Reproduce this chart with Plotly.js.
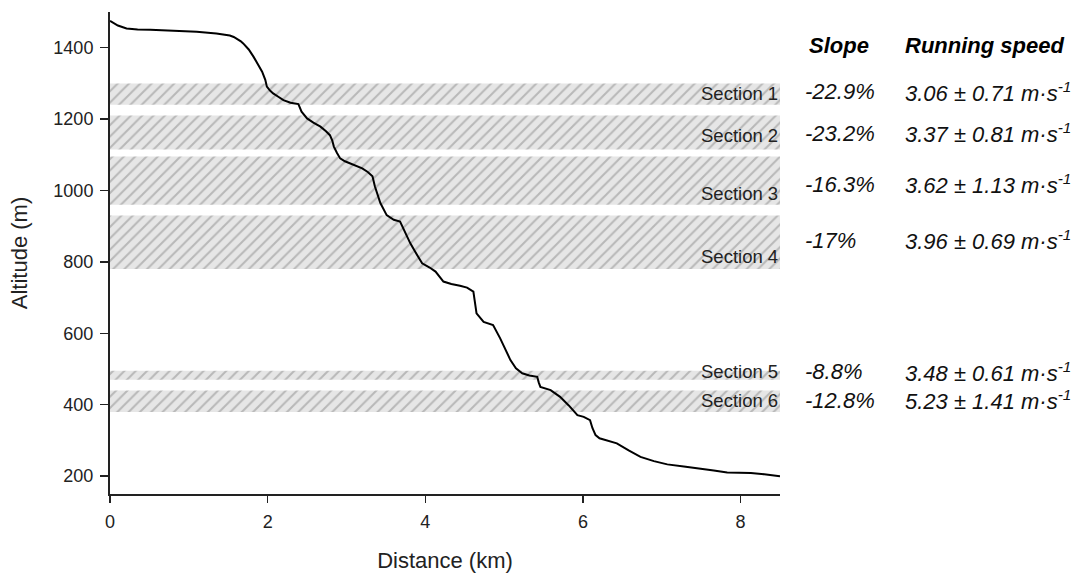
<!DOCTYPE html>
<html>
<head>
<meta charset="utf-8">
<script src="https://cdn.plot.ly/plotly-3.0.1.min.js"></script>
<style>
html,body{margin:0;padding:0;background:#fff;}
#chart{width:1074px;height:574px;}
</style>
</head>
<body>
<div id="chart"></div>
<script>
// ---- data ----
const distanceKm = [0, 0.05, 0.1, 0.21, 0.35, 0.51, 0.7, 0.93, 1.1, 1.35, 1.45, 1.52, 1.57, 1.62, 1.66, 1.69, 1.73, 1.76, 1.82, 1.88, 1.93, 1.97, 1.99, 2.03, 2.07, 2.14, 2.2, 2.29, 2.39, 2.43, 2.47, 2.5, 2.58, 2.67, 2.74, 2.79, 2.82, 2.84, 2.88, 2.92, 2.98, 3.05, 3.13, 3.2, 3.27, 3.33, 3.36, 3.39, 3.43, 3.51, 3.6, 3.68, 3.74, 3.81, 3.87, 3.96, 4.05, 4.13, 4.23, 4.33, 4.44, 4.53, 4.61, 4.63, 4.65, 4.74, 4.86, 4.95, 5.02, 5.08, 5.15, 5.23, 5.32, 5.42, 5.44, 5.46, 5.59, 5.71, 5.82, 5.93, 6.01, 6.09, 6.12, 6.16, 6.21, 6.3, 6.43, 6.58, 6.73, 6.9, 7.07, 7.28, 7.49, 7.66, 7.83, 8.0, 8.13, 8.3, 8.5];
const altitudeM = [1475, 1468, 1462, 1454, 1451, 1450, 1448, 1447, 1445, 1440, 1437, 1434, 1430, 1424, 1418, 1412, 1403, 1395, 1375, 1352, 1333, 1310, 1291, 1280, 1272, 1262, 1253, 1246, 1242, 1221, 1210, 1202, 1190, 1179, 1166, 1155, 1140, 1123, 1105, 1090, 1082, 1076, 1070, 1062, 1052, 1040, 1012, 990, 965, 931, 918, 913, 885, 852, 829, 796, 785, 773, 745, 738, 733, 728, 717, 690, 656, 632, 623, 586, 555, 525, 502, 488, 482, 478, 462, 450, 441, 422, 398, 371, 366, 357, 335, 315, 306, 300, 292, 272, 254, 242, 233, 227, 222, 216, 210, 209, 209, 205, 200];

const sectionNames = ["Section 1", "Section 2", "Section 3", "Section 4", "Section 5", "Section 6"];
const bandTop =    [1300, 1210, 1095, 930, 495, 440];
const bandBottom = [1240, 1115, 960, 780, 470, 380];
const labelAlt =   [1272, 1153, 992, 815, 492, 413];
const rowAlt =     [1276, 1160, 1017, 861, 492, 413];
const slopes = ["-22.9%", "-23.2%", "-16.3%", "-17%", "-8.8%", "-12.8%"];
const speedMean = ["3.06", "3.37", "3.62", "3.96", "3.48", "5.23"];
const speedSD =   ["0.71", "0.81", "1.13", "0.69", "0.61", "1.41"];
const headers = ["Slope", "Running speed"];

const xRange = [0, 8.5];
const yRange = [150, 1500];
const yTicks = [200, 400, 600, 800, 1000, 1200, 1400];
const xTicks = [0, 2, 4, 6, 8];

const FONT = "Liberation Sans, Arial, Helvetica, sans-serif";

// ---- traces ----
const traces = [];
for (let i = 0; i < sectionNames.length; i++) {
  traces.push({
    type: "scatter", mode: "lines",
    x: [xRange[0], xRange[1], xRange[1], xRange[0], xRange[0]],
    y: [bandBottom[i], bandBottom[i], bandTop[i], bandTop[i], bandBottom[i]],
    fill: "toself",
    fillcolor: "#e6e6e6",
    fillpattern: {shape: "/", bgcolor: "#e6e6e6", fgcolor: "#b8b8b8", size: 8, solidity: 0.25},
    line: {width: 0, color: "rgba(0,0,0,0)"},
    hoverinfo: "skip", showlegend: false
  });
}
traces.push({
  type: "scatter", mode: "lines",
  x: distanceKm, y: altitudeM,
  line: {color: "#000", width: 2},
  showlegend: false
});

// ---- annotations ----
const ann = [];
sectionNames.forEach((s, i) => {
  ann.push({xref: "x", yref: "y", x: xRange[1], y: labelAlt[i], text: s, showarrow: false,
    xanchor: "right", yanchor: "middle", font: {family: FONT, size: 18.5, color: "#222"}});
  ann.push({xref: "paper", yref: "y", x: 1.034, y: rowAlt[i], text: "<i>" + slopes[i] + "</i>", showarrow: false,
    xanchor: "left", yanchor: "middle", font: {family: FONT, size: 22, color: "#111"}});
  ann.push({xref: "paper", yref: "y", x: 1.1836, y: rowAlt[i],
    text: "<i>" + speedMean[i] + " ± " + speedSD[i] + " m·s<sup>-1</sup></i>", showarrow: false,
    xanchor: "left", yanchor: "middle", font: {family: FONT, size: 22, color: "#111"}});
});
ann.push({xref: "paper", yref: "y", x: 1.04, y: 1405, text: "<b><i>" + headers[0] + "</i></b>", showarrow: false,
  xanchor: "left", yanchor: "middle", font: {family: FONT, size: 22, color: "#000"}});
ann.push({xref: "paper", yref: "y", x: 1.1836, y: 1405, text: "<b><i>" + headers[1] + "</i></b>", showarrow: false,
  xanchor: "left", yanchor: "middle", font: {family: FONT, size: 22, color: "#000"}});

const layout = {
  width: 1074, height: 574,
  margin: {l: 110, r: 294, t: 12, b: 80},
  paper_bgcolor: "#fff", plot_bgcolor: "#fff",
  font: {family: FONT, color: "#222"},
  xaxis: {
    range: xRange, tickvals: xTicks, ticks: "outside", ticklen: 7, tickwidth: 1.5, tickcolor: "#222",
    showline: true, linecolor: "#222", linewidth: 2, showgrid: false, zeroline: false,
    ticklabelstandoff: 3,
    tickfont: {family: FONT, size: 18, color: "#222"},
    title: {text: "Distance (km)", font: {family: FONT, size: 22, color: "#222"}, standoff: 22}
  },
  yaxis: {
    range: yRange, tickvals: yTicks, ticks: "outside", ticklen: 8, tickwidth: 1.5, tickcolor: "#222",
    showline: true, linecolor: "#222", linewidth: 2, showgrid: false, zeroline: false,
    ticklabelstandoff: 3,
    tickfont: {family: FONT, size: 18, color: "#222"},
    title: {text: "Altitude (m)", font: {family: FONT, size: 22, color: "#222"}, standoff: 20}
  },
  annotations: ann
};

Plotly.newPlot("chart", traces, layout, {displayModeBar: false, staticPlot: true});
</script>
</body>
</html>
